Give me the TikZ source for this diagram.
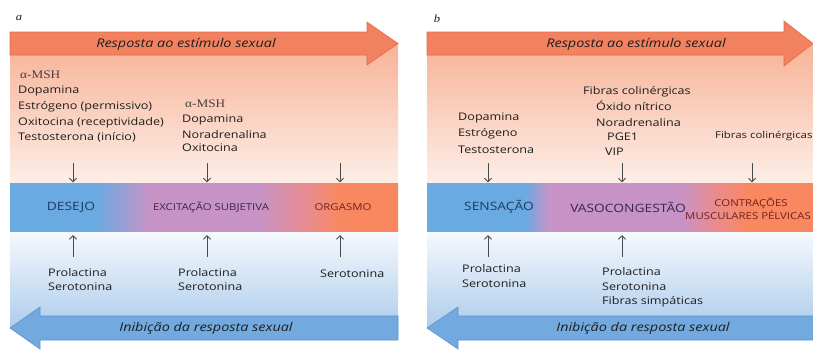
\documentclass[tikz,border=0pt]{standalone}
\usepackage{fontspec}
\setmainfont{Open Sans}[FakeStretch=1.2]
\newfontfamily\serifA{Liberation Serif}[FakeStretch=1.15]
\usetikzlibrary{arrows.meta}
\definecolor{oArrow}{HTML}{F28160}
\definecolor{oArrowLine}{HTML}{E36B4B}
\definecolor{bArrow}{HTML}{72AADF}
\definecolor{bArrowLine}{HTML}{5D95CC}
\definecolor{peachTop}{HTML}{F7B397}
\definecolor{peachBot}{HTML}{FDEEE7}
\definecolor{blueBgTop}{HTML}{F6F9FD}
\definecolor{blueBgBot}{HTML}{AECDEC}
\definecolor{bblue}{HTML}{6AAAE2}
\definecolor{lav}{HTML}{C793C7}
\definecolor{bpink}{HTML}{E88C92}
\definecolor{borange}{HTML}{F98860}
\definecolor{txtgray}{HTML}{1E1E1E}
\definecolor{mshcol}{HTML}{4A3F3A}
\definecolor{navy}{HTML}{1F3A5F}
\definecolor{dpurple}{HTML}{3A2845}
\definecolor{dred}{HTML}{6E1F24}
\definecolor{arrgray}{HTML}{4A4A4A}
\pgfdeclarehorizontalshading{bandAshade}{100bp}{color(0bp)=(bblue); color(36bp)=(bblue); color(43bp)=(lav); color(57bp)=(lav); color(63bp)=(bpink); color(67.5bp)=(borange); color(100bp)=(borange)}
\pgfdeclarehorizontalshading{bandBshade}{100bp}{color(0bp)=(bblue); color(37.7bp)=(bblue); color(40.8bp)=(lav); color(57.8bp)=(lav); color(62bp)=(bpink); color(66.5bp)=(borange); color(100bp)=(borange)}
\tikzset{
  bigO/.style={fill=oArrow, draw=oArrowLine, line width=0.6pt, line join=miter},
  bigB/.style={fill=bArrow, draw=bArrowLine, line width=0.6pt, line join=miter},
  arrtxt/.style={inner sep=0, font=\itshape\fontsize{12}{14}\selectfont, text=txtgray},
  bandbox/.style={shade, minimum height=48pt, inner sep=0, draw=none},
  lbl/.style={inner sep=0},
  txt/.style={anchor=west, inner sep=0, text height=9pt, text depth=2pt, font=\fontsize{10.5}{12}\selectfont, text=txtgray},
  msh/.style={anchor=west, inner sep=0, text height=9pt, text depth=2pt, font=\serifA\fontsize{11.5}{12}\selectfont, text=mshcol},
  smarr/.style={draw=arrgray, line width=0.8pt, -{Straight Barb[length=3.5pt,width=7pt]}},
  plabel/.style={inner sep=0, font=\serifA\itshape\fontsize{11}{12}\selectfont, text=txtgray}
}
\begin{document}
\begin{tikzpicture}[x=1pt,y=-1pt]
\useasboundingbox (0,0) rectangle (813,349);
% ---------------- panel a ----------------
\fill[top color=peachTop, bottom color=peachBot] (10,43) rectangle (398,183);
\fill[top color=blueBgTop, bottom color=blueBgBot] (10,231) rectangle (398,328);
\filldraw[bigO] (10,32) -- (367,32) -- (367,22) -- (398,43.5) -- (367,65) -- (367,55) -- (10,55) -- cycle;
\filldraw[bigB] (398,316) -- (40,316) -- (40,307) -- (10,328) -- (40,349) -- (40,340) -- (398,340) -- cycle;
\node[arrtxt] (ra) at (186,44) {Resposta ao estímulo sexual};
\node[arrtxt] (ia) at (206,328) {Inibição da resposta sexual};
\node[plabel] (pa) at (19,18) {a};
\node[bandbox, shading=bandAshade, minimum width=388pt] (bandA) at (204,207) {};
\node[lbl, font=\fontsize{11.5}{13}\selectfont, text=navy] (l1) at (71,207) {DESEJO};
\node[lbl, font=\fontsize{9.5}{11}\selectfont, text=dpurple] (l2) at (211,207) {EXCITAÇÃO SUBJETIVA};
\node[lbl, font=\fontsize{9.5}{11}\selectfont, text=dred] (l3) at (343,207) {ORGASMO};
\node[msh] (ta0) at (20,75) {α-MSH};
\node[txt] (ta1) at (18,90) {Dopamina};
\node[txt] (ta2) at (18,106) {Estrógeno (permissivo)};
\node[txt] (ta3) at (18,122) {Oxitocina (receptividade)};
\node[txt] (ta4) at (18,137) {Testosterona (início)};
\node[msh] (tb0) at (185,104) {α-MSH};
\node[txt] (tb1) at (182,119) {Dopamina};
\node[txt] (tb2) at (182,135) {Noradrenalina};
\node[txt] (tb3) at (182,148) {Oxitocina};
\node[txt] (tc1) at (48,273) {Prolactina};
\node[txt] (tc2) at (48,287) {Serotonina};
\node[txt] (td1) at (178,273) {Prolactina};
\node[txt] (td2) at (178,287) {Serotonina};
\node[txt] (te1) at (320,274) {Serotonina};
\coordinate (da1) at (73,163);
\coordinate (da2) at (207,163);
\coordinate (da3) at (340,163);
\coordinate (ua1) at (73,257);
\coordinate (ua2) at (207,257);
\coordinate (ua3) at (340,257);
\foreach \c in {da1,da2,da3} \draw[smarr, shorten >=0.5pt] (\c) -- (\c |- bandA.north);
\foreach \c in {ua1,ua2,ua3} \draw[smarr, shorten >=4pt] (\c) -- (\c |- bandA.south);
% ---------------- panel b ----------------
\fill[top color=peachTop, bottom color=peachBot] (427,43) rectangle (813,183);
\fill[top color=blueBgTop, bottom color=blueBgBot] (427,231) rectangle (813,328);
\filldraw[bigO] (427,32) -- (784,32) -- (784,21) -- (813,43.5) -- (784,66) -- (784,55) -- (427,55) -- cycle;
\filldraw[bigB] (814,316) -- (458,316) -- (458,307) -- (427,328) -- (458,349) -- (458,340) -- (814,340) -- cycle;
\node[arrtxt] (rb) at (636,44) {Resposta ao estímulo sexual};
\node[arrtxt] (ib) at (643,328) {Inibição da resposta sexual};
\node[plabel] (pb) at (437,19) {b};
\node[bandbox, shading=bandBshade, minimum width=386pt] (bandB) at (620,207) {};
\node[lbl, font=\fontsize{11.5}{13}\selectfont, text=navy] (l4) at (499,207) {SENSAÇÃO};
\node[lbl, font=\fontsize{11.5}{13}\selectfont, text=dpurple] (l5) at (628,207) {VASOCONGESTÃO};
\node[lbl, font=\fontsize{9.5}{11}\selectfont, text=dred] (l6) at (751,203) {CONTRAÇÕES};
\node[lbl, font=\fontsize{9.5}{11}\selectfont, text=dred] (l7) at (748,215) {MUSCULARES PÉLVICAS};
\node[txt] (tf1) at (458,117) {Dopamina};
\node[txt] (tf2) at (458,133) {Estrógeno};
\node[txt] (tf3) at (458,150) {Testosterona};
\node[txt] (tg1) at (583,91) {Fibras colinérgicas};
\node[txt] (tg2) at (596,107) {Óxido nítrico};
\node[txt] (tg3) at (596,123) {Noradrenalina};
\node[txt] (tg4) at (607,137) {PGE1};
\node[txt] (tg5) at (605,152) {VIP};
\node[txt, font=\fontsize{9.5}{11}\selectfont] (th1) at (715,135) {Fibras colinérgicas};
\node[txt] (ti1) at (462,269) {Prolactina};
\node[txt] (ti2) at (462,284) {Serotonina};
\node[txt] (tj1) at (602,272) {Prolactina};
\node[txt] (tj2) at (602,287) {Serotonina};
\node[txt] (tj3) at (602,301) {Fibras simpáticas};
\coordinate (db1) at (488,163);
\coordinate (db2) at (622,163);
\coordinate (db3) at (752,163);
\coordinate (ub1) at (488,257);
\coordinate (ub2) at (622,257);
\foreach \c in {db1,db2,db3} \draw[smarr, shorten >=0.5pt] (\c) -- (\c |- bandB.north);
\foreach \c in {ub1,ub2} \draw[smarr, shorten >=4pt] (\c) -- (\c |- bandB.south);
\end{tikzpicture}
\end{document}
